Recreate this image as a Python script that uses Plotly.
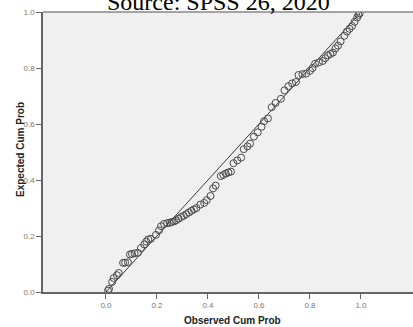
import plotly.graph_objects as go

observed = [0.008, 0.012, 0.024, 0.03, 0.043, 0.05, 0.067, 0.075, 0.086, 0.094, 0.102, 0.112, 0.125,
            0.137, 0.15, 0.158, 0.166, 0.176, 0.196, 0.208, 0.216, 0.228, 0.24, 0.25, 0.258, 0.267,
            0.275, 0.285, 0.295, 0.305, 0.315, 0.325, 0.335, 0.345, 0.355, 0.37, 0.385, 0.395, 0.41,
            0.42, 0.43, 0.45, 0.46, 0.47, 0.48, 0.49, 0.50, 0.515, 0.53, 0.54, 0.555, 0.565, 0.58,
            0.595, 0.61, 0.62, 0.635, 0.65, 0.665, 0.686, 0.70, 0.715, 0.73, 0.745, 0.755, 0.77,
            0.785, 0.80, 0.81, 0.82, 0.835, 0.85, 0.86, 0.87, 0.88, 0.89, 0.90, 0.91, 0.92, 0.935,
            0.945, 0.955, 0.965, 0.975, 0.985, 0.99, 0.995]
expected = [0.005, 0.011, 0.036, 0.05, 0.06, 0.068, 0.104, 0.105, 0.106, 0.134, 0.136, 0.138, 0.14,
            0.157, 0.17, 0.18, 0.188, 0.19, 0.204, 0.22, 0.235, 0.243, 0.246, 0.247, 0.25, 0.252,
            0.256, 0.262, 0.268, 0.272, 0.278, 0.284, 0.29, 0.295, 0.30, 0.312, 0.318, 0.328, 0.343,
            0.37, 0.38, 0.414, 0.418, 0.423, 0.427, 0.43, 0.46, 0.47, 0.48, 0.51, 0.52, 0.53, 0.555,
            0.57, 0.59, 0.61, 0.62, 0.66, 0.675, 0.69, 0.72, 0.735, 0.745, 0.75, 0.775, 0.778,
            0.78, 0.79, 0.80, 0.815, 0.82, 0.825, 0.835, 0.845, 0.85, 0.855, 0.87, 0.88, 0.895,
            0.915, 0.93, 0.94, 0.95, 0.965, 0.98, 0.99, 0.995]
ref_line = [0.0, 1.0]
tick_vals = [0.0, 0.2, 0.4, 0.6, 0.8, 1.0]
tick_text = ["0.0", "0.2", "0.4", "0.6", "0.8", "1.0"]

W, H = 413, 327
L, R, T, B = 43, 0, 12, 35
pw, ph = W - L - R, H - T - B

fig = go.Figure()
fig.add_trace(go.Scatter(x=ref_line, y=ref_line, mode="lines",
                         line=dict(color="#3a3a3a", width=1), hoverinfo="skip"))
fig.add_trace(go.Scatter(x=observed, y=expected, mode="markers",
                         marker=dict(symbol="circle-open", size=7,
                                     line=dict(color="#4a4a4a", width=1), color="#4a4a4a")))

axis_common = dict(showgrid=False, zeroline=False, showline=True, linecolor="#666666",
                   linewidth=1.5, ticks="outside", ticklen=5, tickcolor="#666666",
                   automargin=False,
                   tickfont=dict(family="Arial, Liberation Sans", size=8, color="#777777"),
                   tickvals=tick_vals, ticktext=tick_text)

title_font = dict(family="Arial, Liberation Sans", size=10, color="#222222")

fig.update_layout(
    width=W, height=H,
    margin=dict(l=L, r=R, t=T, b=B, pad=0, autoexpand=False),
    paper_bgcolor="white", plot_bgcolor="#f0f0f0",
    showlegend=False,
    xaxis=dict(range=[-0.247, 1.204], **axis_common),
    yaxis=dict(range=[0, 1], **axis_common),
    shapes=[dict(type="line", xref="paper", yref="paper", x0=0, x1=1, y0=1, y1=1,
                 line=dict(color="#888888", width=1.5))],
    annotations=[
        dict(text="Source: SPSS 26, 2020", xref="paper", yref="paper",
             x=(218.5 - L) / pw, y=1, yshift=-5, xanchor="center", yanchor="bottom",
             showarrow=False,
             font=dict(family="Liberation Serif, Times New Roman", size=24, color="black")),
        dict(text="<b>Observed Cum Prob</b>", xref="paper", yref="paper",
             x=(232 - L) / pw, y=-(320.5 - T - ph) / ph, xanchor="center", yanchor="middle",
             showarrow=False, font=title_font),
        dict(text="<b>Expected Cum Prob</b>", xref="paper", yref="paper",
             x=-(L - 20) / pw, y=(T + ph - 150) / ph, xanchor="center", yanchor="middle",
             textangle=-90, showarrow=False, font=title_font),
    ],
)

fig.write_html("out.html", config={"displayModeBar": False},
               post_script="document.body.style.margin='0';document.body.style.padding='0';")
